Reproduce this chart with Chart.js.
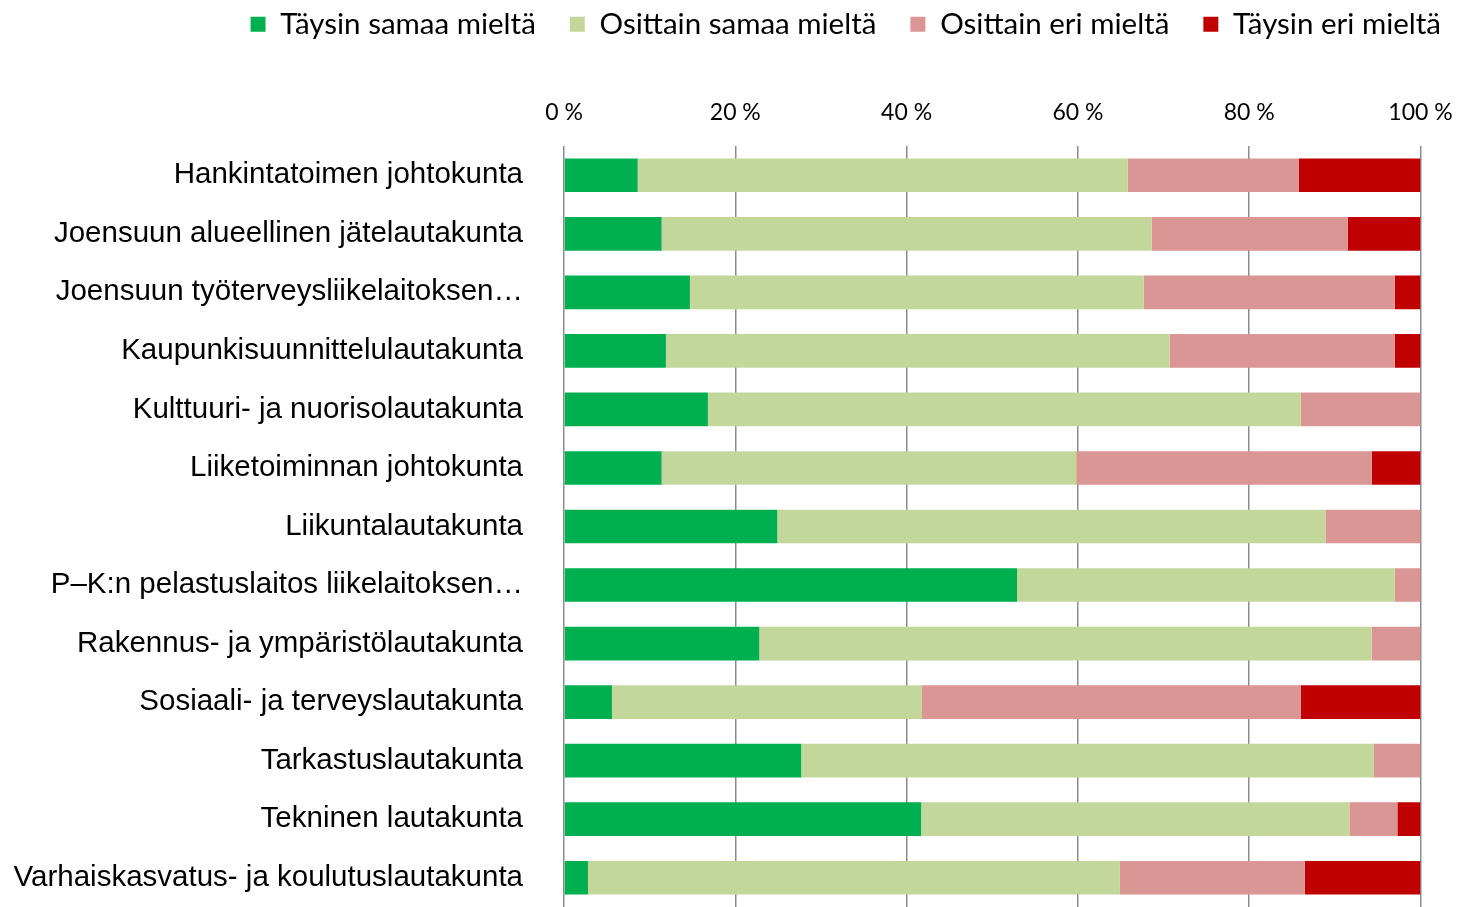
<!DOCTYPE html>
<html>
<head>
<meta charset="utf-8">
<script src="https://cdn.jsdelivr.net/npm/chart.js@4/dist/chart.umd.min.js"></script>
<style>
  html, body { margin: 0; padding: 0; background: #fff; }
</style>
</head>
<body>
<canvas id="kaavio" width="1462" height="907"></canvas>
<script>
// kaavio: lautakuntien vastaukset (%)

const lautakunnat = [
  'Hankintatoimen johtokunta',
  'Joensuun alueellinen jätelautakunta',
  'Joensuun työterveysliikelaitoksen…',
  'Kaupunkisuunnittelulautakunta',
  'Kulttuuri- ja nuorisolautakunta',
  'Liiketoiminnan johtokunta',
  'Liikuntalautakunta',
  'P–K:n pelastuslaitos liikelaitoksen…',
  'Rakennus- ja ympäristölautakunta',
  'Sosiaali- ja terveyslautakunta',
  'Tarkastuslautakunta',
  'Tekninen lautakunta',
  'Varhaiskasvatus- ja koulutuslautakunta'
];

const taysinSamaa   = [8.6, 11.4, 14.7, 11.9, 16.8, 11.4, 24.9, 52.9, 22.8, 5.6, 27.7, 41.7, 2.8];
const osittainSamaa = [57.2, 57.2, 53.0, 58.8, 69.2, 48.4, 64.0, 44.1, 71.5, 36.2, 66.8, 50.0, 62.1];
const osittainEri   = [20.0, 22.9, 29.3, 26.3, 14.0, 34.5, 11.1, 3.0, 5.7, 44.2, 5.5, 5.6, 21.6];
const taysinEri     = [14.2, 8.5, 3.0, 3.0, 0, 5.7, 0, 0, 0, 14.0, 0, 2.7, 13.5];

const prosenttiTikit = ['0 %', '20 %', '40 %', '60 %', '80 %', '100 %'];

const ruudukko = '#8C8C8C';

const ctx = document.getElementById('kaavio').getContext('2d');

new Chart(ctx, {
  type: 'bar',
  data: {
    labels: lautakunnat,
    datasets: [
      { label: 'Täysin samaa mieltä', data: taysinSamaa, backgroundColor: '#00B050' },
      { label: 'Osittain samaa mieltä', data: osittainSamaa, backgroundColor: '#C4D79B' },
      { label: 'Osittain eri mieltä', data: osittainEri, backgroundColor: '#DA9694' },
      { label: 'Täysin eri mieltä', data: taysinEri, backgroundColor: '#C00000' }
    ]
  },
  options: {
    indexAxis: 'y',
    responsive: false,
    animation: false,
    layout: {
      padding: { top: -24.5, right: -13, bottom: -3.5, left: 0 }
    },
    datasets: {
      bar: { categoryPercentage: 1, barPercentage: 0.575, borderWidth: 0 }
    },
    plugins: {
      legend: {
        position: 'top',
        align: 'end',
        labels: {
          boxWidth: 15,
          boxHeight: 15,
          padding: 34,
          color: '#000',
          font: { family: 'Lato', size: 29.5 }
        }
      },
      tooltip: { enabled: false }
    },
    scales: {
      x: {
        position: 'top',
        stacked: true,
        min: 0,
        max: 100,
        ticks: {
          stepSize: 20,
          padding: 20,
          color: '#000',
          font: { family: 'Lato', size: 23 },
          callback: (value, i) => prosenttiTikit[i]
        },
        grid: { color: ruudukko, lineWidth: 1.5, drawTicks: false },
        border: { display: false },
        afterFit: (scale) => {
          scale.height = 97;
          scale.paddingRight = 41.5;
          scale.paddingLeft = 0;
        }
      },
      y: {
        stacked: true,
        ticks: {
          autoSkip: false,
          padding: 41,
          color: '#000',
          font: { family: 'Liberation Sans', size: 29.5 }
        },
        grid: { display: false, drawTicks: false },
        border: { display: false },
        afterFit: (scale) => {
          scale.width = 564;
          scale.paddingTop = 0;
          scale.paddingBottom = 0;
        }
      }
    }
  }
});
</script>
</body>
</html>
